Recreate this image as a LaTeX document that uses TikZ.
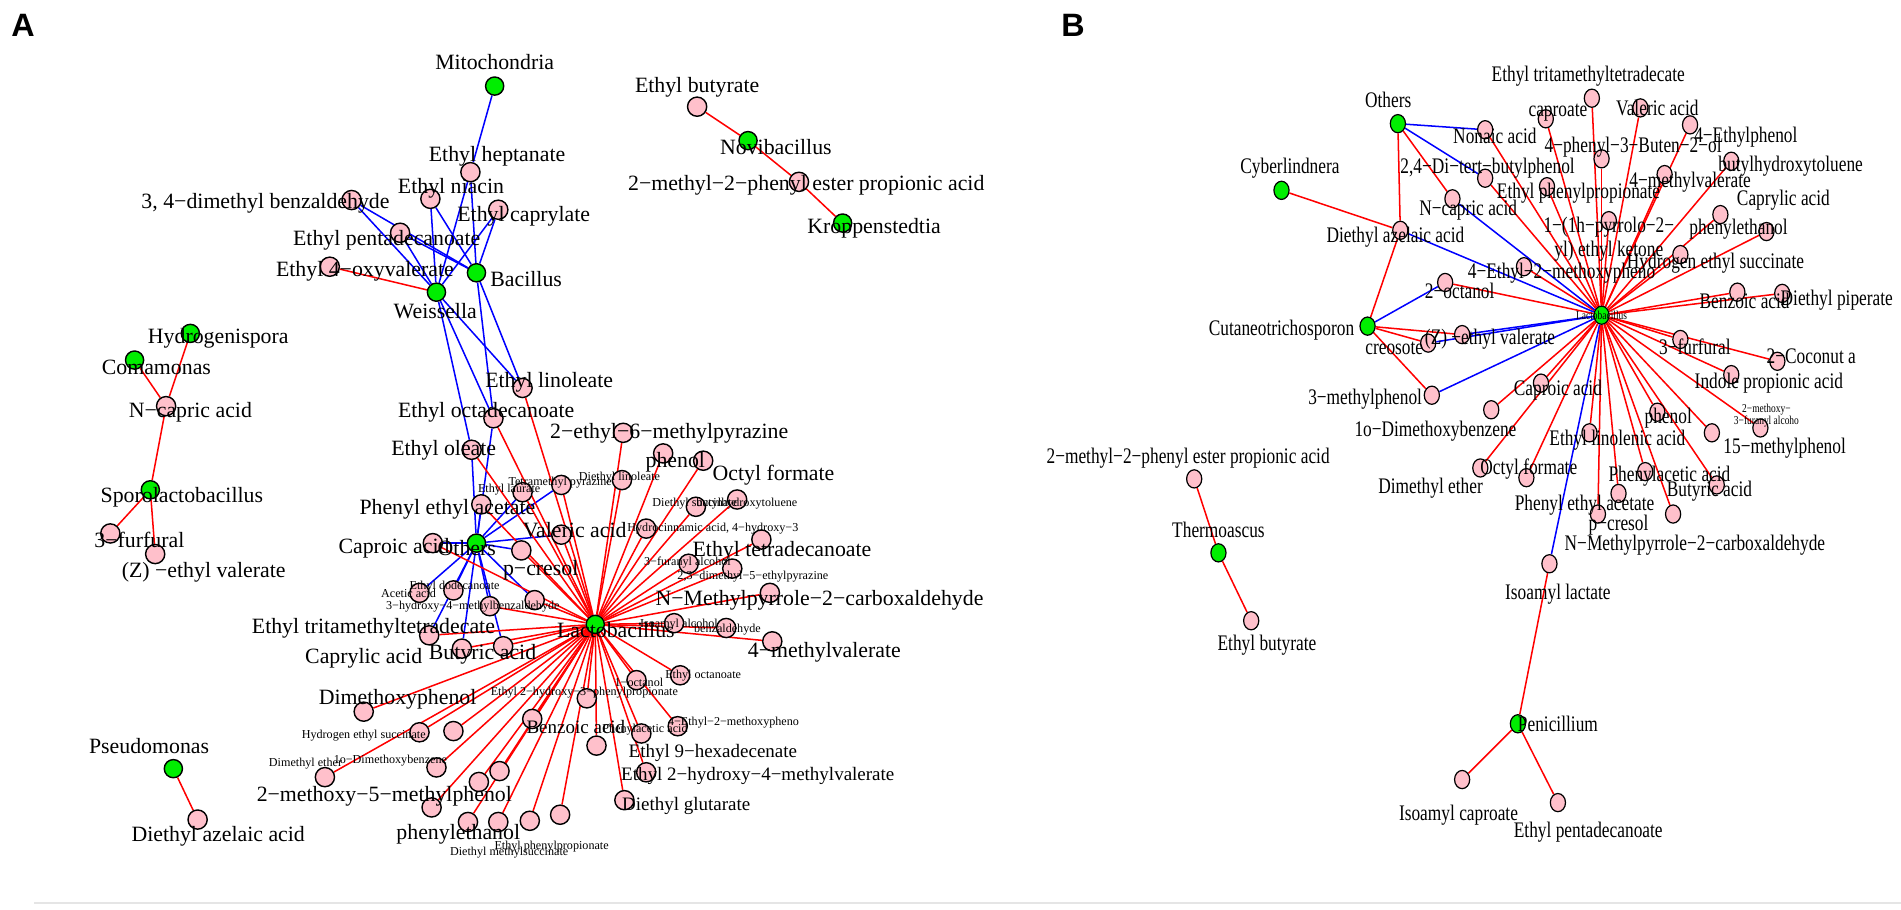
\documentclass[tikz,border=0pt]{standalone}
\usepackage{fontspec}
\setmainfont{Liberation Serif}
\newfontfamily\narrowfont[FakeStretch=0.78]{Liberation Serif}
\newfontfamily\panelfont{Liberation Sans}
\usetikzlibrary{shapes.geometric,backgrounds}
\definecolor{vpink}{RGB}{255,192,203}
\definecolor{vgreen}{RGB}{0,238,0}

\begin{document}
\begin{tikzpicture}[x=0.6pt,y=-0.6pt]
  \tikzstyle{taxon}=[circle,draw=black,fill=vgreen,line width=0.7pt,minimum size=9pt,inner sep=0pt]
  \tikzstyle{chem}=[circle,draw=black,fill=vpink,line width=0.7pt,minimum size=9.5pt,inner sep=0pt]
  \tikzstyle{taxonB}=[ellipse,draw=black,fill=vgreen,line width=0.6pt,minimum width=7.5pt,minimum height=9pt,inner sep=0pt]
  \tikzstyle{chemB}=[ellipse,draw=black,fill=vpink,line width=0.6pt,minimum width=7.5pt,minimum height=9pt,inner sep=0pt]
  \tikzstyle{lab}=[inner sep=0pt,font=\fontsize{10.8}{11}\selectfont]
  \tikzstyle{midlab}=[inner sep=0pt,font=\fontsize{9.4}{10}\selectfont]
  \tikzstyle{minilab}=[inner sep=0pt,font=\fontsize{6}{6.5}\selectfont]
  \tikzstyle{blab}=[inner sep=0pt,font=\narrowfont\fontsize{11}{12}\selectfont,align=center]
  \tikzstyle{bmini}=[inner sep=0pt,font=\narrowfont\fontsize{6}{6}\selectfont,align=center]
  \tikzstyle{poslink}=[draw=red,line width=0.75pt]
  \tikzstyle{neglink}=[draw=blue,line width=0.75pt]

  \useasboundingbox (0,0) rectangle (1568,750);
  \draw[black!10,line width=0.8pt] (28,745) -- (1568,745);

  \node[font=\panelfont\bfseries\fontsize{16}{16}\selectfont] (panA) at (19,21) {A};
  \node[font=\panelfont\bfseries\fontsize{16}{16}\selectfont] (panB) at (885,21) {B};

  % panel A: genera
  \node[taxon] (mito)   at (408,71)  {};
  \node[taxon] (novi)   at (617,116) {};
  \node[taxon] (kropp)  at (695,184) {};
  \node[taxon] (weis)   at (360,241) {};
  \node[taxon] (bac)    at (393,225) {};
  \node[taxon] (hydro)  at (157,275) {};
  \node[taxon] (coma)   at (111,297) {};
  \node[taxon] (sporo)  at (124,404) {};
  \node[taxon] (pseudo) at (143,634) {};
  \node[taxon] (othA)   at (393,448) {};
  \node[taxon] (lactA)  at (491,515) {};

  % panel A: compounds
  \node[chem] (ebut)  at (575,88)  {};
  \node[chem] (mpp)   at (659,150) {};
  \node[chem] (dmb)   at (290,165) {};
  \node[chem] (niac)  at (355,164) {};
  \node[chem] (pent)  at (330,192) {};
  \node[chem] (capry) at (411,173) {};
  \node[chem] (hept)  at (388,142) {};
  \node[chem] (oxyv)  at (272,220) {};
  \node[chem] (linol) at (431,320) {};
  \node[chem] (octad) at (407,345) {};
  \node[chem] (olea)  at (389,371) {};
  \node[chem] (ncap)  at (137,335) {};
  \node[chem] (furf)  at (91,440)  {};
  \node[chem] (zval)  at (128,457) {};
  \node[chem] (dazel) at (163,676) {};
  \node[chem] (phea)  at (397,416) {};
  \node[chem] (capro) at (357,448) {};
  \node[chem] (valer) at (463,441) {};
  \node[chem] (pcres) at (430,454) {};
  \node[chem] (tmp)   at (463,400) {};
  \node[chem] (elaur) at (431,406) {};
  \node[chem] (acet)  at (346,489) {};
  \node[chem] (edod)  at (374,487) {};
  \node[chem] (hyd)   at (404,500) {};
  \node[chem] (xbz)   at (441,495) {};
  \node[chem] (tritA) at (354,524) {};
  \node[chem] (caprl) at (381,535) {};
  \node[chem] (buty)  at (415,533) {};
  \node[chem] (emp)   at (514,357) {};
  \node[chem] (phen)  at (547,374) {};
  \node[chem] (octf)  at (580,380) {};
  \node[chem] (dlin)  at (513,396) {};
  \node[chem] (dsuc)  at (574,418) {};
  \node[chem] (bht)   at (608,412) {};
  \node[chem] (hcin)  at (533,436) {};
  \node[chem] (etet)  at (628,445) {};
  \node[chem] (fural) at (568,465) {};
  \node[chem] (dmep)  at (604,469) {};
  \node[chem] (nmp)   at (635,489) {};
  \node[chem] (iaal)  at (556,514) {};
  \node[chem] (bald)  at (599,518) {};
  \node[chem] (mval)  at (637,529) {};
  \node[chem] (octol) at (525,561) {};
  \node[chem] (eoct)  at (561,557) {};
  \node[chem] (ehpp)  at (484,576) {};
  \node[chem] (emph)  at (559,599) {};
  \node[chem] (phac)  at (529,605) {};
  \node[chem] (benz)  at (439,593) {};
  \node[chem] (hexd)  at (492,615) {};
  \node[chem] (ehmv)  at (533,637) {};
  \node[chem] (dglu)  at (515,660) {};
  \node[chem] (dmxp)  at (300,587) {};
  \node[chem] (hes)   at (346,604) {};
  \node[chem] (eacet) at (374,603) {};
  \node[chem] (dme)   at (268,641) {};
  \node[chem] (dxb)   at (360,633) {};
  \node[chem] (decn)  at (412,636) {};
  \node[chem] (mmp)   at (395,645) {};
  \node[chem] (phet)  at (356,666) {};
  \node[chem] (bot1)  at (386,678) {};
  \node[chem] (bot2)  at (411,678) {};
  \node[chem] (bot3)  at (437,677) {};
  \node[chem] (bot4)  at (462,672) {};

  % panel B: genera
  \node[taxonB] (othB)  at (1153,102) {};
  \node[taxonB] (cyb)   at (1057,157) {};
  \node[taxonB] (cut)   at (1128,269) {};
  \node[taxonB] (therm) at (1005,456) {};
  \node[taxonB] (pen)   at (1252,597) {};
  \node[taxonB] (lacB)  at (1321,260) {};

  % panel B: compounds
  \node[chemB] (ett)   at (1313,81)  {};
  \node[chemB] (cpr)   at (1275,98)  {};
  \node[chemB] (vala)  at (1353,89)  {};
  \node[chemB] (eph)   at (1394,103) {};
  \node[chemB] (pbut)  at (1321,131) {};
  \node[chemB] (non)   at (1225,107) {};
  \node[chemB] (dtb)   at (1225,147) {};
  \node[chemB] (ncB)   at (1198,164) {};
  \node[chemB] (epp)   at (1276,154) {};
  \node[chemB] (mvB)   at (1373,144) {};
  \node[chemB] (bhtB)  at (1428,133) {};
  \node[chemB] (caB)   at (1419,177) {};
  \node[chemB] (pyr)   at (1327,182) {};
  \node[chemB] (petB)  at (1457,191) {};
  \node[chemB] (hesB)  at (1386,210) {};
  \node[chemB] (emB)   at (1257,220) {};
  \node[chemB] (dazB)  at (1155,190) {};
  \node[chemB] (oct2)  at (1192,233) {};
  \node[chemB] (bzB)   at (1433,241) {};
  \node[chemB] (dpip)  at (1470,242) {};
  \node[chemB] (creo)  at (1178,283) {};
  \node[chemB] (zvB)   at (1206,276) {};
  \node[chemB] (mph3)  at (1181,326) {};
  \node[chemB] (dxbB)  at (1230,338) {};
  \node[chemB] (capB)  at (1271,316) {};
  \node[chemB] (ocfB)  at (1221,386) {};
  \node[chemB] (dmeB)  at (1259,394) {};
  \node[chemB] (elnB)  at (1311,357) {};
  \node[chemB] (phB)   at (1367,340) {};
  \node[chemB] (m15)   at (1412,357) {};
  \node[chemB] (mfa)   at (1452,353) {};
  \node[chemB] (ind)   at (1428,309) {};
  \node[chemB] (fur3)  at (1386,280) {};
  \node[chemB] (coco)  at (1466,298) {};
  \node[chemB] (phacB) at (1357,389) {};
  \node[chemB] (butB)  at (1416,400) {};
  \node[chemB] (pea)   at (1335,407) {};
  \node[chemB] (pcrB)  at (1318,424) {};
  \node[chemB] (nmpB)  at (1380,424) {};
  \node[chemB] (isl)   at (1278,465) {};
  \node[chemB] (isc)   at (1206,643) {};
  \node[chemB] (epB)   at (1285,662) {};
  \node[chemB] (mppB)  at (985,395)  {};
  \node[chemB] (ebB)   at (1032,512) {};

  \begin{scope}[on background layer]
    \path (ebut) edge[poslink] (novi)  (novi) edge[poslink] (mpp)  (mpp) edge[poslink] (kropp)
          (ncap) edge[poslink] (coma)  (ncap) edge[poslink] (hydro)  (ncap) edge[poslink] (sporo)
          (sporo) edge[poslink] (furf)  (sporo) edge[poslink] (zval)
          (pseudo) edge[poslink] (dazel)  (weis) edge[poslink] (oxyv);
    \path (mito) edge[neglink] (hept)
          (weis) edge[neglink] (dmb)  (weis) edge[neglink] (niac)  (weis) edge[neglink] (pent)
          (weis) edge[neglink] (capry)  (weis) edge[neglink] (hept)  (weis) edge[neglink] (linol)
          (weis) edge[neglink] (octad)  (weis) edge[neglink] (olea)
          (bac) edge[neglink] (dmb)  (bac) edge[neglink] (niac)  (bac) edge[neglink] (pent)
          (bac) edge[neglink] (capry)  (bac) edge[neglink] (hept)  (bac) edge[neglink] (linol)
          (bac) edge[neglink] (octad);
    \path (othA) edge[neglink] (phea)  (othA) edge[neglink] (olea)  (othA) edge[neglink] (octad)
          (othA) edge[neglink] (capro)  (othA) edge[neglink] (valer)  (othA) edge[neglink] (pcres)
          (othA) edge[neglink] (tmp)  (othA) edge[neglink] (elaur)  (othA) edge[neglink] (tritA)
          (othA) edge[neglink] (caprl)  (othA) edge[neglink] (buty)  (othA) edge[neglink] (acet)
          (othA) edge[neglink] (edod)  (othA) edge[neglink] (hyd)  (othA) edge[neglink] (xbz);
    \path (lactA) edge[poslink] (linol)  (lactA) edge[poslink] (octad)  (lactA) edge[poslink] (olea)
          (lactA) edge[poslink] (phea)  (lactA) edge[poslink] (capro)  (lactA) edge[poslink] (valer)
          (lactA) edge[poslink] (pcres)  (lactA) edge[poslink] (tmp)  (lactA) edge[poslink] (elaur)
          (lactA) edge[poslink] (tritA)  (lactA) edge[poslink] (caprl)  (lactA) edge[poslink] (buty)
          (lactA) edge[poslink] (hyd)  (lactA) edge[poslink] (xbz)  (lactA) edge[poslink] (emp)
          (lactA) edge[poslink] (phen)  (lactA) edge[poslink] (octf)  (lactA) edge[poslink] (dlin)
          (lactA) edge[poslink] (dsuc)  (lactA) edge[poslink] (bht)  (lactA) edge[poslink] (hcin)
          (lactA) edge[poslink] (etet)  (lactA) edge[poslink] (fural)  (lactA) edge[poslink] (dmep)
          (lactA) edge[poslink] (nmp)  (lactA) edge[poslink] (iaal)  (lactA) edge[poslink] (bald)
          (lactA) edge[poslink] (mval)  (lactA) edge[poslink] (octol)  (lactA) edge[poslink] (eoct)
          (lactA) edge[poslink] (ehpp)  (lactA) edge[poslink] (emph)  (lactA) edge[poslink] (phac)
          (lactA) edge[poslink] (benz)  (lactA) edge[poslink] (hexd)  (lactA) edge[poslink] (ehmv)
          (lactA) edge[poslink] (dglu)  (lactA) edge[poslink] (dmxp)  (lactA) edge[poslink] (hes)
          (lactA) edge[poslink] (eacet)  (lactA) edge[poslink] (dme)  (lactA) edge[poslink] (dxb)
          (lactA) edge[poslink] (decn)  (lactA) edge[poslink] (mmp)  (lactA) edge[poslink] (phet)
          (lactA) edge[poslink] (bot1)  (lactA) edge[poslink] (bot2)  (lactA) edge[poslink] (bot3)
          (lactA) edge[poslink] (bot4);
    % panel B links
    \path (lacB) edge[poslink] (ett)  (lacB) edge[poslink] (cpr)  (lacB) edge[poslink] (vala)
          (lacB) edge[poslink] (eph)  (lacB) edge[poslink] (pbut)  (lacB) edge[poslink] (non)
          (lacB) edge[poslink] (dtb)  (lacB) edge[poslink] (epp)  (lacB) edge[poslink] (mvB)
          (lacB) edge[poslink] (bhtB)  (lacB) edge[poslink] (caB)  (lacB) edge[poslink] (pyr)
          (lacB) edge[poslink] (petB)  (lacB) edge[poslink] (hesB)  (lacB) edge[poslink] (emB)
          (lacB) edge[poslink] (oct2)  (lacB) edge[poslink] (bzB)  (lacB) edge[poslink] (dpip)
          (lacB) edge[poslink] (capB)  (lacB) edge[poslink] (dxbB)  (lacB) edge[poslink] (ocfB)
          (lacB) edge[poslink] (dmeB)  (lacB) edge[poslink] (elnB)  (lacB) edge[poslink] (phB)
          (lacB) edge[poslink] (m15)  (lacB) edge[poslink] (mfa)  (lacB) edge[poslink] (ind)
          (lacB) edge[poslink] (fur3)  (lacB) edge[poslink] (coco)  (lacB) edge[poslink] (phacB)
          (lacB) edge[poslink] (butB)  (lacB) edge[poslink] (pea)  (lacB) edge[poslink] (pcrB)
          (lacB) edge[poslink] (nmpB);
    \path (lacB) edge[neglink] (ncB)  (lacB) edge[neglink] (dazB)  (lacB) edge[neglink] (zvB)
          (lacB) edge[neglink] (creo)  (lacB) edge[neglink] (mph3)  (lacB) edge[neglink] (isl)
          (othB) edge[neglink] (non)  (othB) edge[neglink] (dtb)  (cut) edge[neglink] (oct2);
    \path (othB) edge[poslink] (ncB)  (othB) edge[poslink] (dazB)  (cyb) edge[poslink] (dazB)
          (cut) edge[poslink] (dazB)  (cut) edge[poslink] (creo)  (cut) edge[poslink] (zvB)
          (cut) edge[poslink] (mph3)  (pen) edge[poslink] (isl)  (pen) edge[poslink] (isc)
          (pen) edge[poslink] (epB)  (therm) edge[poslink] (mppB)  (therm) edge[poslink] (ebB);
  \end{scope}

  % panel A labels
  \node[lab] (mito-t)   at (408,51)  {Mitochondria};
  \node[lab] (novi-t)   at (640,121) {Novibacillus};
  \node[lab] (kropp-t)  at (721,188) {Kroppenstedtia};
  \node[lab] (weis-t)   at (359,257) {Weissella};
  \node[lab] (bac-t)    at (434,230) {Bacillus};
  \node[lab] (hydro-t)  at (180,279) {Hydrogenispora};
  \node[lab] (coma-t)   at (129,303) {Comamonas};
  \node[lab] (sporo-t)  at (150,410) {Sporolactobacillus};
  \node[lab] (pseudo-t) at (123,615) {Pseudomonas};
  \node[lab] (othA-t)   at (385,452) {Others};
  \node[lab] (lactA-t)  at (508,520) {Lactobacillus};
  \node[lab] (ebut-t)   at (575,72)  {Ethyl butyrate};
  \node[lab] (mpp-t)    at (665,153) {2−methyl−2−phenyl ester propionic acid};
  \node[lab] (dmb-t)    at (219,168) {3, 4−dimethyl benzaldehyde};
  \node[lab] (niac-t)   at (372,155) {Ethyl niacin};
  \node[lab] (pent-t)   at (319,198) {Ethyl pentadecanoate};
  \node[lab] (capry-t)  at (432,178) {Ethyl caprylate};
  \node[lab] (hept-t)   at (410,129) {Ethyl heptanate};
  \node[lab] (oxyv-t)   at (301,224) {Ethyl 4−oxyvalerate};
  \node[lab] (linol-t)  at (453,315) {Ethyl linoleate};
  \node[lab] (octad-t)  at (401,340) {Ethyl octadecanoate};
  \node[lab] (olea-t)   at (366,371) {Ethyl oleate};
  \node[lab] (ncap-t)   at (157,340) {N−capric acid};
  \node[lab] (furf-t)   at (115,445) {3−furfural};
  \node[lab] (zval-t)   at (168,472) {(Z) −ethyl valerate};
  \node[lab] (dazel-t)  at (180,690) {Diethyl azelaic acid};
  \node[lab] (phea-t)   at (369,420) {Phenyl ethyl acetate};
  \node[lab] (capro-t)  at (325,452) {Caproic acid};
  \node[lab] (valer-t)  at (474,437) {Valeric acid};
  \node[lab] (pcres-t)  at (446,470) {p−cresol};
  \node[minilab] (tmp-t)   at (462,398) {Tetramethyl pyrazine};
  \node[minilab] (elaur-t) at (420,404) {Ethyl laurate};
  \node[minilab] (acet-t)  at (337,489) {Acetic acid};
  \node[minilab] (edod-t)  at (375,484) {Ethyl dodecanoate};
  \node[minilab] (hyd-t)   at (390,500) {3−hydroxy−4−methylbenzaldehyde};
  \node[lab] (tritA-t)  at (308,518) {Ethyl tritamethyltetradecate};
  \node[lab] (caprl-t)  at (300,543) {Caprylic acid};
  \node[lab] (buty-t)   at (398,540) {Butyric acid};
  \node[lab] (emp-t)    at (552,357) {2−ethyl−6−methylpyrazine};
  \node[lab] (phen-t)   at (557,381) {phenol};
  \node[lab] (octf-t)   at (638,392) {Octyl formate};
  \node[minilab] (dlin-t)  at (511,394) {Diethyl linoleate};
  \node[minilab] (dsuc-t)  at (573,415) {Diethyl succinate};
  \node[minilab] (bht-t)   at (616,415) {butylhydroxytoluene};
  \node[minilab] (hcin-t)  at (588,436) {Hydrocinnamic acid, 4−hydroxy−3};
  \node[lab] (etet-t)   at (645,455) {Ethyl tetradecanoate};
  \node[minilab] (fural-t) at (567,464) {3−furanyl alcohol};
  \node[minilab] (dmep-t)  at (621,476) {2,3−dimethyl−5−ethylpyrazine};
  \node[lab] (nmp-t)    at (676,495) {N−Methylpyrrole−2−carboxaldehyde};
  \node[minilab] (iaal-t)  at (560,515) {Isoamyl alcohol};
  \node[minilab] (bald-t)  at (600,519) {benzaldehyde};
  \node[lab] (mval-t)   at (680,538) {4−methylvalerate};
  \node[minilab] (octol-t) at (527,563) {1−octanol};
  \node[minilab] (eoct-t)  at (580,557) {Ethyl octanoate};
  \node[minilab] (ehpp-t)  at (482,571) {Ethyl 2−hydroxy−3−phenylpropionate};
  \node[minilab] (emph-t)  at (605,596) {4−Ethyl−2−methoxypheno};
  \node[minilab] (phac-t)  at (532,602) {Phenylacetic acid};
  \node[midlab] (benz-t)   at (475,600) {Benzoic acid};
  \node[midlab] (hexd-t)   at (588,621) {Ethyl 9−hexadecenate};
  \node[midlab] (ehmv-t)   at (625,640) {Ethyl 2−hydroxy−4−methylvalerate};
  \node[midlab] (dglu-t)   at (566,665) {Diethyl glutarate};
  \node[lab] (dmxp-t)   at (328,577) {Dimethoxyphenol};
  \node[minilab] (hes-t)   at (300,607) {Hydrogen ethyl succinate};
  \node[minilab] (dme-t)   at (252,630) {Dimethyl ether};
  \node[minilab] (dxb-t)   at (322,627) {1o−Dimethoxybenzene};
  \node[lab] (mmp-t)    at (317,657) {2−methoxy−5−methylphenol};
  \node[lab] (phet-t)   at (378,688) {phenylethanol};
  \node[minilab] (bot3-t)  at (455,698) {Ethyl phenylpropionate};
  \node[minilab] (bot2-t)  at (420,703) {Diethyl methylsuccinate};

  % panel B labels
  \node[blab] (othB-t)  at (1145,82)  {Others};
  \node[blab] (cyb-t)   at (1064,139) {Cyberlindnera};
  \node[blab] (cut-t)   at (1057,272) {Cutaneotrichosporon};
  \node[blab] (therm-t) at (1005,437) {Thermoascus};
  \node[blab] (pen-t)   at (1285,597) {Penicillium};
  \node[bmini] (lacB-t) at (1321,260) {Lactobacillus};
  \node[blab] (ett-t)   at (1310,63)  {Ethyl tritamethyltetradecate};
  \node[blab] (cpr-t)   at (1285,93)  {caproate};
  \node[blab] (vala-t)  at (1367,89)  {Valeric acid};
  \node[blab] (eph-t)   at (1440,113) {4−Ethylphenol};
  \node[blab] (pbut-t)  at (1347,121) {4−phenyl−3−Buten−2−ol};
  \node[blab] (non-t)   at (1233,112) {Nonaic acid};
  \node[blab] (dtb-t)   at (1227,139) {2,4−Di−tert−butylphenol};
  \node[blab] (ncB-t)   at (1211,173) {N−capric acid};
  \node[blab] (epp-t)   at (1302,159) {Ethyl phenylpropionate};
  \node[blab] (mvB-t)   at (1394,150) {4−methylvalerate};
  \node[blab] (bhtB-t)  at (1477,137) {butylhydroxytoluene};
  \node[blab] (caB-t)   at (1471,165) {Caprylic acid};
  \node[blab] (pyr-t)   at (1327,197) {1−(1h−pyrrolo−2−\\yl) ethyl ketone};
  \node[blab] (petB-t)  at (1434,189) {phenylethanol};
  \node[blab] (hesB-t)  at (1415,217) {Hydrogen ethyl succinate};
  \node[blab] (emB-t)   at (1288,225) {4−Ethyl−2−methoxypheno};
  \node[blab] (dazB-t)  at (1151,196) {Diethyl azelaic acid};
  \node[blab] (oct2-t)  at (1204,240) {2−octanol};
  \node[blab] (bzB-t)   at (1439,248) {Benzoic acid};
  \node[blab] (dpip-t)  at (1515,248) {Diethyl piperate};
  \node[blab] (creo-t)  at (1150,287) {creosote};
  \node[blab] (zvB-t)   at (1229,280) {(Z) −ethyl valerate};
  \node[blab] (mph3-t)  at (1126,329) {3−methylphenol};
  \node[blab] (dxbB-t)  at (1184,356) {1o−Dimethoxybenzene};
  \node[blab] (capB-t)  at (1285,322) {Caproic acid};
  \node[blab] (ocfB-t)  at (1261,387) {Octyl formate};
  \node[blab] (dmeB-t)  at (1180,403) {Dimethyl ether};
  \node[blab] (elnB-t)  at (1334,363) {Ethyl linolenic acid};
  \node[blab] (phB-t)   at (1376,345) {phenol};
  \node[blab] (m15-t)   at (1472,370) {15−methylphenol};
  \node[bmini] (mfa-t)  at (1457,343) {2−methoxy−\\3−furanyl alcoho};
  \node[blab] (ind-t)   at (1459,316) {Indole propionic acid};
  \node[blab] (fur3-t)  at (1398,286) {3−furfural};
  \node[blab] (coco-t)  at (1494,294) {2−Coconut a};
  \node[blab] (phacB-t) at (1377,393) {Phenylacetic acid};
  \node[blab] (butB-t)  at (1410,405) {Butyric acid};
  \node[blab] (pea-t)   at (1307,417) {Phenyl ethyl acetate};
  \node[blab] (pcrB-t)  at (1335,433) {p−cresol};
  \node[blab] (nmpB-t)  at (1398,450) {N−Methylpyrrole−2−carboxaldehyde};
  \node[blab] (isl-t)   at (1285,490) {Isoamyl lactate};
  \node[blab] (isc-t)   at (1203,672) {Isoamyl caproate};
  \node[blab] (epB-t)   at (1310,686) {Ethyl pentadecanoate};
  \node[blab] (mppB-t)  at (980,378)  {2−methyl−2−phenyl ester propionic acid};
  \node[blab] (ebB-t)   at (1045,532) {Ethyl butyrate};
\end{tikzpicture}
\end{document}
